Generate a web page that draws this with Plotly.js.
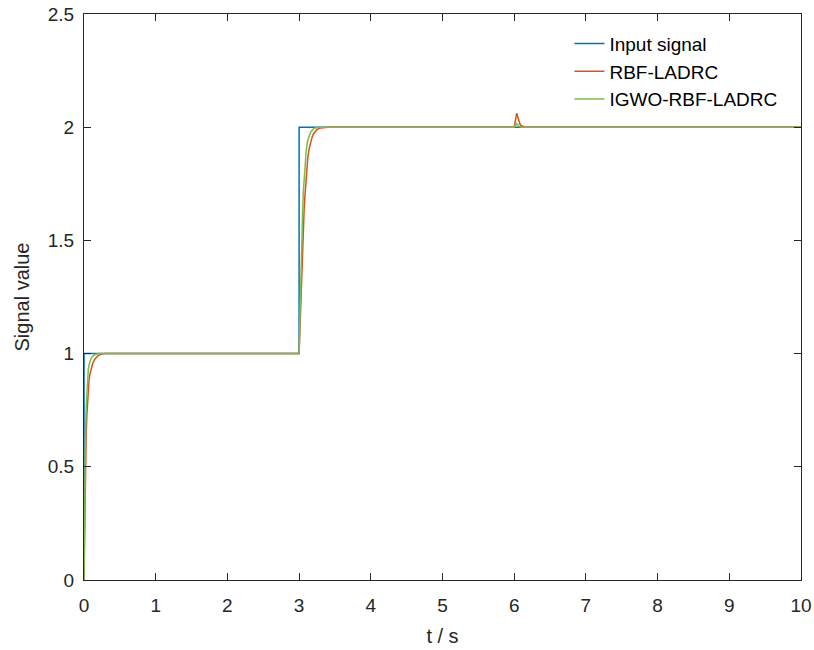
<!DOCTYPE html>
<html>
<head>
<meta charset="utf-8">
<script src="https://cdn.plot.ly/plotly-3.0.1.min.js"></script>
<style>html,body{margin:0;padding:0;background:#fff;}#chart{width:814px;height:650px;}</style>
</head>
<body>
<div id="chart"></div>
<script>
// Input signal (step reference)
const tInput = [0, 0, 3, 3, 10];
const yInput = [0, 1, 1, 2, 2];

// RBF-LADRC response
const tRBF = [0, 0.005, 0.01, 0.015, 0.02, 0.03, 0.04, 0.05, 0.06, 0.07, 0.08, 0.10, 0.12, 0.15, 0.18, 0.20, 0.25, 0.30, 3.00, 3.005, 3.01, 3.02, 3.03, 3.04, 3.05, 3.06, 3.07, 3.08, 3.09, 3.10, 3.11, 3.12, 3.14, 3.16, 3.18, 3.20, 3.25, 3.30, 3.40, 6.00, 6.01, 6.02, 6.03, 6.035, 6.04, 6.05, 6.06, 6.07, 6.08, 6.10, 6.12, 6.15, 6.20, 10];
const yRBF = [0, 0.16, 0.30, 0.41, 0.50, 0.64, 0.73, 0.80, 0.845, 0.88, 0.905, 0.935, 0.955, 0.975, 0.986, 0.992, 0.998, 1.0, 1.0, 1.05, 1.10, 1.22, 1.33, 1.42, 1.50, 1.57, 1.635, 1.69, 1.745, 1.79, 1.83, 1.86, 1.905, 1.935, 1.955, 1.97, 1.99, 1.997, 2.0, 2.0, 2.012, 2.035, 2.055, 2.061, 2.058, 2.045, 2.032, 2.022, 2.014, 2.006, 2.003, 2.001, 2.0, 2.0];

// IGWO-RBF-LADRC response
const tIGWO = [0, 0.005, 0.01, 0.015, 0.02, 0.03, 0.04, 0.05, 0.06, 0.07, 0.08, 0.10, 0.12, 0.15, 0.20, 3.00, 3.005, 3.01, 3.02, 3.03, 3.04, 3.05, 3.06, 3.07, 3.08, 3.09, 3.10, 3.12, 3.14, 3.16, 3.20, 3.25, 6.00, 6.02, 6.03, 6.035, 6.04, 6.05, 6.07, 6.10, 10];
const yIGWO = [0, 0.22, 0.40, 0.52, 0.62, 0.76, 0.84, 0.90, 0.93, 0.95, 0.965, 0.98, 0.988, 0.995, 1.0, 1.0, 1.07, 1.15, 1.30, 1.44, 1.55, 1.64, 1.72, 1.78, 1.83, 1.87, 1.90, 1.94, 1.963, 1.978, 1.993, 2.0, 2.0, 2.006, 2.013, 2.016, 2.014, 2.009, 2.003, 2.0, 2.0];

const seriesNames = ['Input signal', 'RBF-LADRC', 'IGWO-RBF-LADRC'];
const xTicks = [0,1,2,3,4,5,6,7,8,9,10];
const yTicks = [0,0.5,1,1.5,2,2.5];
const yTickText = ['0','0.5','1','1.5','2','2.5'];

const font = 'Liberation Sans, Arial, sans-serif';
const traces = [
  {x: tInput, y: yInput, name: seriesNames[0], legendgroup: 'a', mode: 'lines', line: {color: '#0072BD', width: 1.5}},
  {x: tRBF, y: yRBF, name: seriesNames[1], legendgroup: 'b', mode: 'lines', line: {color: '#D95319', width: 1.5}},
  {x: tIGWO, y: yIGWO, name: seriesNames[2], legendgroup: 'c', mode: 'lines', line: {color: '#77BE4A', width: 1.5}}
];

const axisCommon = {
  showgrid: false, zeroline: false, showline: true, mirror: 'ticks',
  linecolor: '#262626', linewidth: 1, ticks: 'inside', ticklen: 7, tickcolor: '#262626',
  tickfont: {family: font, size: 19, color: '#262626'}
};

const layout = {
  width: 814, height: 650,
  margin: {l: 84, r: 13, t: 14, b: 70},
  paper_bgcolor: '#fff', plot_bgcolor: '#fff',
  showlegend: true,
  legend: {x: 0.677, y: 0.981, xanchor: 'left', yanchor: 'top', bgcolor: 'rgba(0,0,0,0)',
           font: {family: font, size: 19, color: '#000'}, tracegroupgap: 0},
  xaxis: Object.assign({}, axisCommon, {range: [0, 10], tickvals: xTicks, ticklabelstandoff: 8,
         title: {text: 't / s', font: {family: font, size: 20, color: '#262626'}, standoff: 14}}),
  yaxis: Object.assign({}, axisCommon, {range: [0, 2.5], tickvals: yTicks, ticktext: yTickText, ticklabelstandoff: 5,
         title: {text: 'Signal value', font: {family: font, size: 20, color: '#262626'}, standoff: 12}})
};

Plotly.newPlot('chart', traces, layout, {displayModeBar: false, staticPlot: true});
</script>
</body>
</html>
